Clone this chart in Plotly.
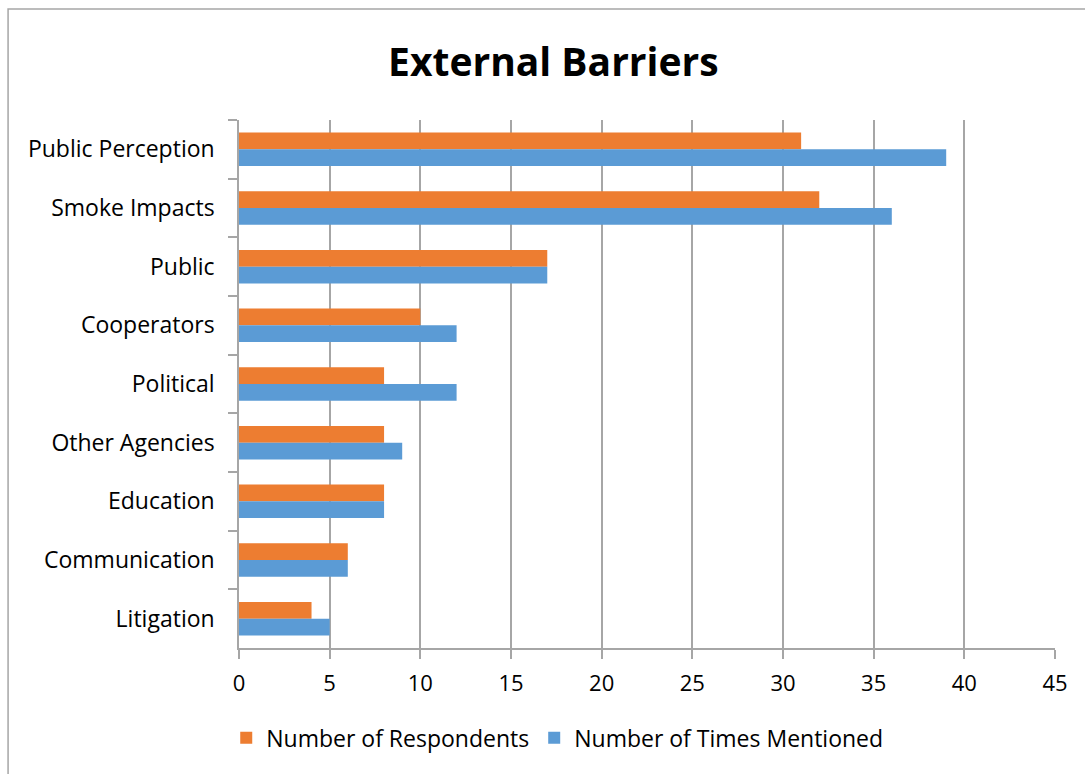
import plotly.graph_objects as go

categories = ["Public Perception", "Smoke Impacts", "Public", "Cooperators", "Political",
              "Other Agencies", "Education", "Communication", "Litigation"]
respondents = [31, 32, 17, 10, 8, 8, 8, 6, 4]
mentioned = [39, 36, 17, 12, 12, 9, 8, 6, 5]
x_ticks = [0, 5, 10, 15, 20, 25, 30, 35, 40, 45]

FONT = "Open Sans"

fig = go.Figure()
fig.add_trace(go.Bar(y=categories, x=respondents, orientation="h", name="Number of Respondents",
                     marker=dict(color="#ED7D31", line=dict(width=0))))
fig.add_trace(go.Bar(y=categories, x=mentioned, orientation="h", name="Number of Times Mentioned",
                     marker=dict(color="#5B9BD5", line=dict(width=0))))

fig.update_layout(
    width=1085, height=774,
    margin=dict(l=239, r=30, t=120, b=126),
    paper_bgcolor="white", plot_bgcolor="white",
    barmode="group", bargap=0.43, bargroupgap=0,
    font=dict(family=FONT, color="#000000", size=22),
    title=dict(text="<b>External Barriers</b>", x=0.51, xanchor="center", y=0.92, yanchor="middle",
               font=dict(size=39, family=FONT)),
    showlegend=True,
    legend=dict(orientation="h", x=0.39, xanchor="center", y=-0.17, yanchor="middle",
                font=dict(size=23), itemwidth=30, traceorder="normal"),
    xaxis=dict(range=[0, 45], tickvals=x_ticks, showgrid=True, gridcolor="#A6A6A6", gridwidth=1.5,
               showline=True, linecolor="#A6A6A6", linewidth=1.5, ticks="outside", ticklen=9,
               tickcolor="#A6A6A6", tickwidth=1.5, zeroline=False, tickfont=dict(size=22),
               ticklabelstandoff=6, fixedrange=True),
    yaxis=dict(autorange="reversed", showgrid=False, showline=True, linecolor="#A6A6A6", linewidth=1.5,
               ticks="outside", tickson="boundaries", ticklen=9, tickcolor="#A6A6A6", tickwidth=1.5,
               tickfont=dict(size=23), ticklabelstandoff=18),
    shapes=[dict(type="rect", xref="paper", yref="paper", x0=-0.283, x1=1.045, y0=-0.26, y1=1.21,
                 line=dict(color="#A6A6A6", width=1.5), fillcolor="rgba(0,0,0,0)", layer="below")],
)

fig.write_html("out.html")
